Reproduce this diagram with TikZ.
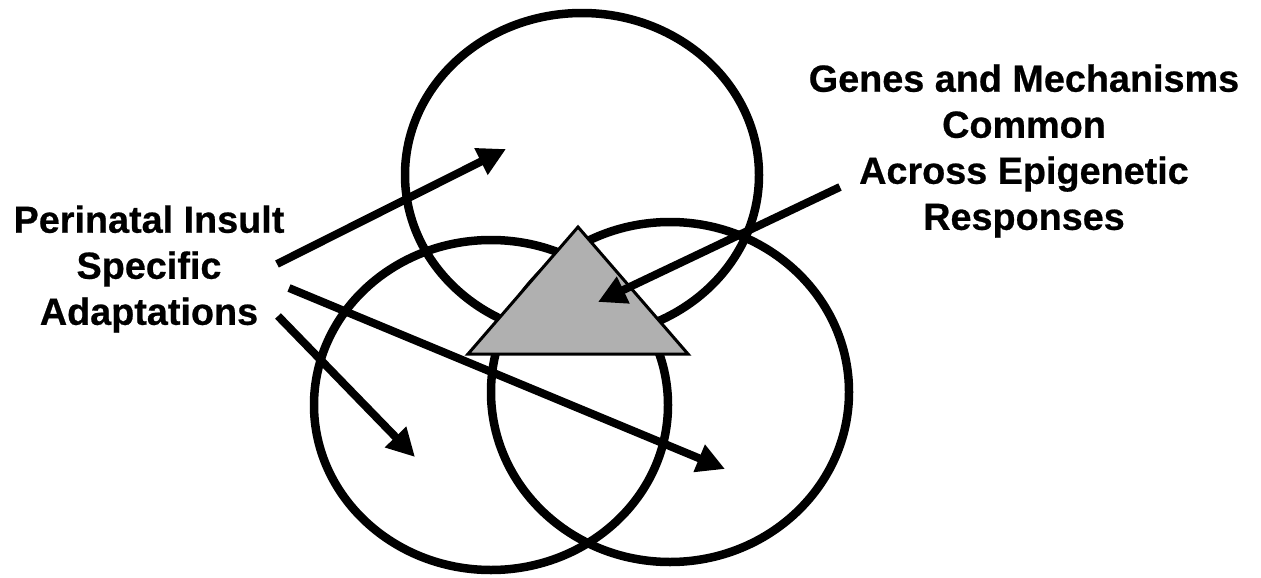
\documentclass[tikz,border=0pt]{standalone}
\usepackage{fontspec}
\setmainfont{Liberation Sans}[BoldFeatures={FakeBold=0.6}]
\usetikzlibrary{arrows.meta}
\definecolor{trigray}{HTML}{B0B0B0}
\tikzset{
  ring/.style={draw=black, line width=0.17cm},
  pointer/.style={draw=black, line width=0.16cm, -{Triangle[length=0.56cm,width=0.56cm]}},
  label/.style={align=center, inner sep=0pt, font=\bfseries\fontsize{21.5pt}{26.2pt}\selectfont}
}
\begin{document}
\begin{tikzpicture}[x=0.02cm, y=-0.02cm]
  \useasboundingbox (0,0) rectangle (1261,578);
  % circles
  \draw[ring] (582,175) ellipse [x radius=177, y radius=162];
  \draw[ring] (491,405) ellipse [x radius=177, y radius=165];
  \draw[ring] (670,392) ellipse [x radius=179, y radius=170];
  % triangle
  \coordinate (apex) at (578,227);
  \coordinate (bl) at (468,354);
  \coordinate (br) at (688,354);
  \draw[fill=trigray, line width=0.06cm, line join=miter] (apex) -- (bl) -- (br) -- cycle;
  % labels
  \node[label] (left) at (149,269) {Perinatal Insult\\Specific\\Adaptations};
  \node[label] (right) at (1024,151) {Genes and Mechanisms\\Common\\Across Epigenetic\\Responses};
  % arrow ends
  \coordinate (s1) at (277,264);
  \coordinate (e1) at (506,149);
  \coordinate (s2) at (289,288);
  \coordinate (e2) at (725,469);
  \coordinate (s3) at (278,316);
  \coordinate (e3) at (415,457);
  \coordinate (s4) at (840,187);
  \coordinate (e4) at (598,302);
  \draw[pointer] (s1) -- (e1);
  \draw[pointer] (s2) -- (e2);
  \draw[pointer] (s3) -- (e3);
  \draw[pointer] (s4) -- (e4);
\end{tikzpicture}
\end{document}
